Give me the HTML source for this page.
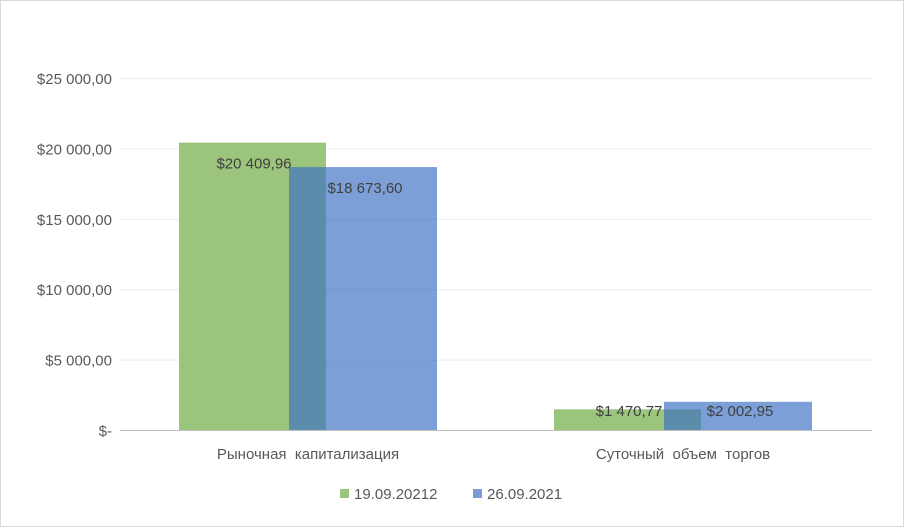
<!DOCTYPE html>
<html><head><meta charset="utf-8"><style>
body{margin:0;background:#fff}
svg{display:block;font-family:"Liberation Sans",sans-serif}
</style></head><body>
<svg id="c" width="904" height="527">
<rect x="0.5" y="0.5" width="903" height="526" fill="#fff" stroke="#d9d9d9"/>
<g id="grid"></g><g id="bars"></g><g id="labels"></g>
<line x1="120" x2="872" y1="430.5" y2="430.5" stroke="#bfbfbf"/>
<g>
<rect x="340" y="489" width="9" height="9" fill="#9bc47c"/>
<text x="354" y="499" font-size="15" fill="#595959">19.09.20212</text>
<rect x="473" y="489" width="9" height="9" fill="#7b9dd6"/>
<text x="487" y="499" font-size="15" fill="#595959">26.09.2021</text>
</g>
</svg>
<script>
const categories=["Рыночная  капитализация","Суточный  объем  торгов"];
const seriesNames=["19.09.20212","26.09.2021"];
const seriesA=[20409.96,1470.77];
const seriesB=[18673.60,2002.95];
const valueLabelsA=["$20 409,96","$1 470,77"];
const valueLabelsB=["$18 673,60","$2 002,95"];
const yTicks=[0,5000,10000,15000,20000,25000];
const yTickLabels=["$-","$5 000,00","$10 000,00","$15 000,00","$20 000,00","$25 000,00"];
const NS="http://www.w3.org/2000/svg";
const y0=430,yTop=78,vmax=25000;
const yS=v=>y0-(v/vmax)*(y0-yTop);
const groupCenters=[308,683];
function mk(t,a,p){const e=document.createElementNS(NS,t);for(const k in a)e.setAttribute(k,a[k]);p.appendChild(e);return e;}
const grid=document.getElementById('grid');
yTicks.forEach((v,i)=>{
 if(v>0){const l=mk('line',{x1:120,x2:872,y1:yS(v)+0.5,y2:yS(v)+0.5,stroke:'#ececec'},grid);
 
 }
 const t=mk('text',{x:112,y:yS(v)+6,'text-anchor':'end','font-size':15,fill:'#595959'},grid);
 t.textContent=yTickLabels[i];
 
 
});
const bars=document.getElementById('bars'),labels=document.getElementById('labels');
categories.forEach((c,i)=>{
 const cx=groupCenters[i];
 const a=mk('rect',{x:cx-129,y:yS(seriesA[i]),width:147,height:y0-yS(seriesA[i]),fill:'#9bc47c'},bars);
 
 
 const b=mk('rect',{x:cx-19,y:yS(seriesB[i]),width:148,height:y0-yS(seriesB[i]),fill:'rgba(61,113,194,0.68)'},bars);
 
 
 const la=mk('text',{x:cx-54,y:Math.min(yS(seriesA[i])+26,416),'text-anchor':'middle','font-size':15,fill:'#404040'},labels);
 la.textContent=valueLabelsA[i];
 
 
 const lb=mk('text',{x:cx+57,y:Math.min(yS(seriesB[i])+26,416),'text-anchor':'middle','font-size':15,fill:'#404040'},labels);
 lb.textContent=valueLabelsB[i];
 
 
 const ct=mk('text',{x:cx,y:459,'text-anchor':'middle','font-size':15,fill:'#595959','xml:space':'preserve'},labels);
 ct.style.whiteSpace='pre';
 ct.textContent=c;
 
 
});
</script>
</body></html>
